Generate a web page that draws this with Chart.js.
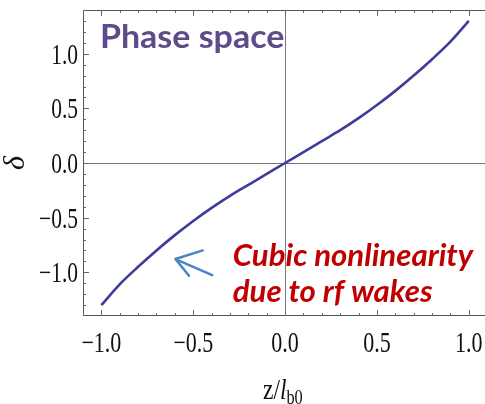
<!DOCTYPE html>
<html>
<head>
<meta charset="utf-8">
<script src="https://cdn.jsdelivr.net/npm/chart.js@4"></script>
<style>
  html, body { margin: 0; padding: 0; background: #fff; }
  #wrap { width: 485px; height: 404px; }
</style>
</head>
<body>
<div id="wrap"><canvas id="myChart" width="485" height="404"></canvas></div>
<script>
// values
var zValues = [-1.0, -0.9, -0.8, -0.7, -0.6, -0.5, -0.4, -0.3, -0.2, -0.1, 0.0,
               0.1, 0.2, 0.3, 0.4, 0.5, 0.6, 0.7, 0.8, 0.9, 1.0];
var deltaValues = [-1.30, -1.11, -0.95, -0.80, -0.66, -0.53, -0.41, -0.30, -0.20, -0.10, 0.0,
                   0.10, 0.20, 0.30, 0.41, 0.53, 0.66, 0.80, 0.95, 1.11, 1.30];
var xTicks = [-1.0, -0.5, 0.0, 0.5, 1.0];
var yTicks = [-1.0, -0.5, 0.0, 0.5, 1.0];
var xTickLabels = ["\u22121.0", "\u22120.5", "0.0", "0.5", "1.0"];
var yTickLabels = ["\u22121.0", "\u22120.5", "0.0", "0.5", "1.0"];

var points = zValues.map(function (z, i) { return { x: z, y: deltaValues[i] }; });

// squeezed text, the reference fonts are narrow
function squeezed(ctx, text, x, y, sx, align) {
    ctx.save();
    ctx.translate(x, y);
    ctx.scale(sx, 1);
    ctx.textAlign = align;
    ctx.fillText(text, 0, 0);
    ctx.restore();
}

var framePlugin = {
    id: 'frame',
    beforeDatasetsDraw: function (chart) {
        var ctx = chart.ctx, a = chart.chartArea;
        var xs = chart.scales.x, ys = chart.scales.y;
        ctx.save();
        // zero axes
        ctx.strokeStyle = '#777';
        ctx.lineWidth = 1;
        ctx.beginPath();
        var x0 = Math.round(xs.getPixelForValue(0)) + 0.5;
        var y0 = Math.round(ys.getPixelForValue(0)) + 0.5;
        ctx.moveTo(x0, a.top); ctx.lineTo(x0, a.bottom);
        ctx.moveTo(a.left, y0); ctx.lineTo(a.right, y0);
        ctx.stroke();
        ctx.restore();
    },
    afterDraw: function (chart) {
        var ctx = chart.ctx, a = chart.chartArea;
        var xs = chart.scales.x, ys = chart.scales.y;
        ctx.save();
        // frame
        ctx.strokeStyle = '#555';
        ctx.lineWidth = 1;
        ctx.beginPath();
        ctx.moveTo(a.right, a.top + 0.5);
        ctx.lineTo(a.left + 0.5, a.top + 0.5);
        ctx.lineTo(a.left + 0.5, a.bottom - 0.5);
        ctx.lineTo(a.right, a.bottom - 0.5);
        ctx.stroke();

        // tick marks (inward), minor every 0.1
        ctx.strokeStyle = '#666';
        ctx.beginPath();
        for (var k = -11; k <= 11; k++) {
            var v = k / 10;
            var major = (k % 5 === 0);
            var len = major ? 6 : 3;
            var px = Math.round(xs.getPixelForValue(v)) + 0.5;
            if (px > a.left && px < a.right) {
                ctx.moveTo(px, a.bottom); ctx.lineTo(px, a.bottom - len);
                ctx.moveTo(px, a.top); ctx.lineTo(px, a.top + len);
            }
        }
        for (var j = -14; j <= 14; j++) {
            var w = j / 10;
            var lenY = (j % 5 === 0) ? 6 : 3;
            var py = Math.round(ys.getPixelForValue(w)) + 0.5;
            if (py > a.top && py < a.bottom) {
                ctx.moveTo(a.left, py); ctx.lineTo(a.left + lenY, py);
            }
        }
        ctx.stroke();

        // tick labels
        ctx.fillStyle = '#111';
        ctx.font = '29px "Liberation Serif", serif';
        ctx.textBaseline = 'alphabetic';
        xTicks.forEach(function (t, i) {
            squeezed(ctx, xTickLabels[i], xs.getPixelForValue(t), 352, 0.76, 'center');
        });
        yTicks.forEach(function (t, i) {
            squeezed(ctx, yTickLabels[i], 78, ys.getPixelForValue(t) + 10, 0.74, 'right');
        });

        // y title
        ctx.save();
        ctx.translate(24, ys.getPixelForValue(0));
        ctx.rotate(-Math.PI / 2);
        ctx.font = 'italic 30px "Liberation Serif", serif';
        ctx.textAlign = 'center';
        ctx.fillText('\u03b4', 0, 0);
        ctx.restore();

        // x title z/l_b0
        var sx = 0.78;
        var bx = 263, by = 399;
        ctx.font = '30px "Liberation Serif", serif';
        squeezed(ctx, 'z/', bx, by, sx, 'left');
        bx += ctx.measureText('z/').width * sx;
        ctx.font = 'italic 30px "Liberation Serif", serif';
        squeezed(ctx, 'l', bx, by, sx, 'left');
        bx += ctx.measureText('l').width * sx;
        ctx.font = '21px "Liberation Serif", serif';
        squeezed(ctx, 'b0', bx, by + 5, sx, 'left');

        // title text
        ctx.fillStyle = '#5e4b8b';
        ctx.font = 'bold 33px Lato, "Open Sans", sans-serif';
        squeezed(ctx, 'Phase space', xs.getPixelForValue(-1.008), ys.getPixelForValue(1.056), 1.03, 'left');

        // annotation
        ctx.fillStyle = '#c00000';
        ctx.font = 'italic bold 30px Lato, "Open Sans", sans-serif';
        squeezed(ctx, 'Cubic nonlinearity', xs.getPixelForValue(-0.285), ys.getPixelForValue(-0.94), 1.04, 'left');
        squeezed(ctx, 'due to rf wakes', xs.getPixelForValue(-0.285), ys.getPixelForValue(-1.27), 1.04, 'left');

        // arrow
        ctx.strokeStyle = '#4a84c4';
        ctx.lineWidth = 2.5;
        ctx.lineCap = 'round';
        ctx.lineJoin = 'round';
        var tip = [xs.getPixelForValue(-0.597), ys.getPixelForValue(-0.879)];
        ctx.beginPath();
        ctx.moveTo(xs.getPixelForValue(-0.397), ys.getPixelForValue(-1.026));
        ctx.lineTo(tip[0], tip[1]);
        ctx.moveTo(xs.getPixelForValue(-0.448), ys.getPixelForValue(-0.800));
        ctx.lineTo(tip[0], tip[1]);
        ctx.lineTo(xs.getPixelForValue(-0.523), ys.getPixelForValue(-1.032));
        ctx.stroke();
        ctx.restore();
    }
};

var ctx = document.getElementById('myChart').getContext('2d');
var chart = new Chart(ctx, {
    type: 'line',
    data: {
        datasets: [{
            label: 'delta',
            data: points,
            borderColor: 'rgb(61, 61, 153)',
            borderWidth: 2.6,
            pointRadius: 0,
            fill: false,
            cubicInterpolationMode: 'monotone'
        }]
    },
    options: {
        responsive: false,
        animation: false,
        layout: { padding: { left: 83, right: 0, top: 10, bottom: 88 } },
        plugins: { legend: { display: false }, tooltip: { enabled: false } },
        scales: {
            x: { type: 'linear', min: -1.1, max: 1.088, display: false },
            y: { type: 'linear', min: -1.4, max: 1.4, display: false }
        }
    },
    plugins: [framePlugin]
});
</script>
</body>
</html>
